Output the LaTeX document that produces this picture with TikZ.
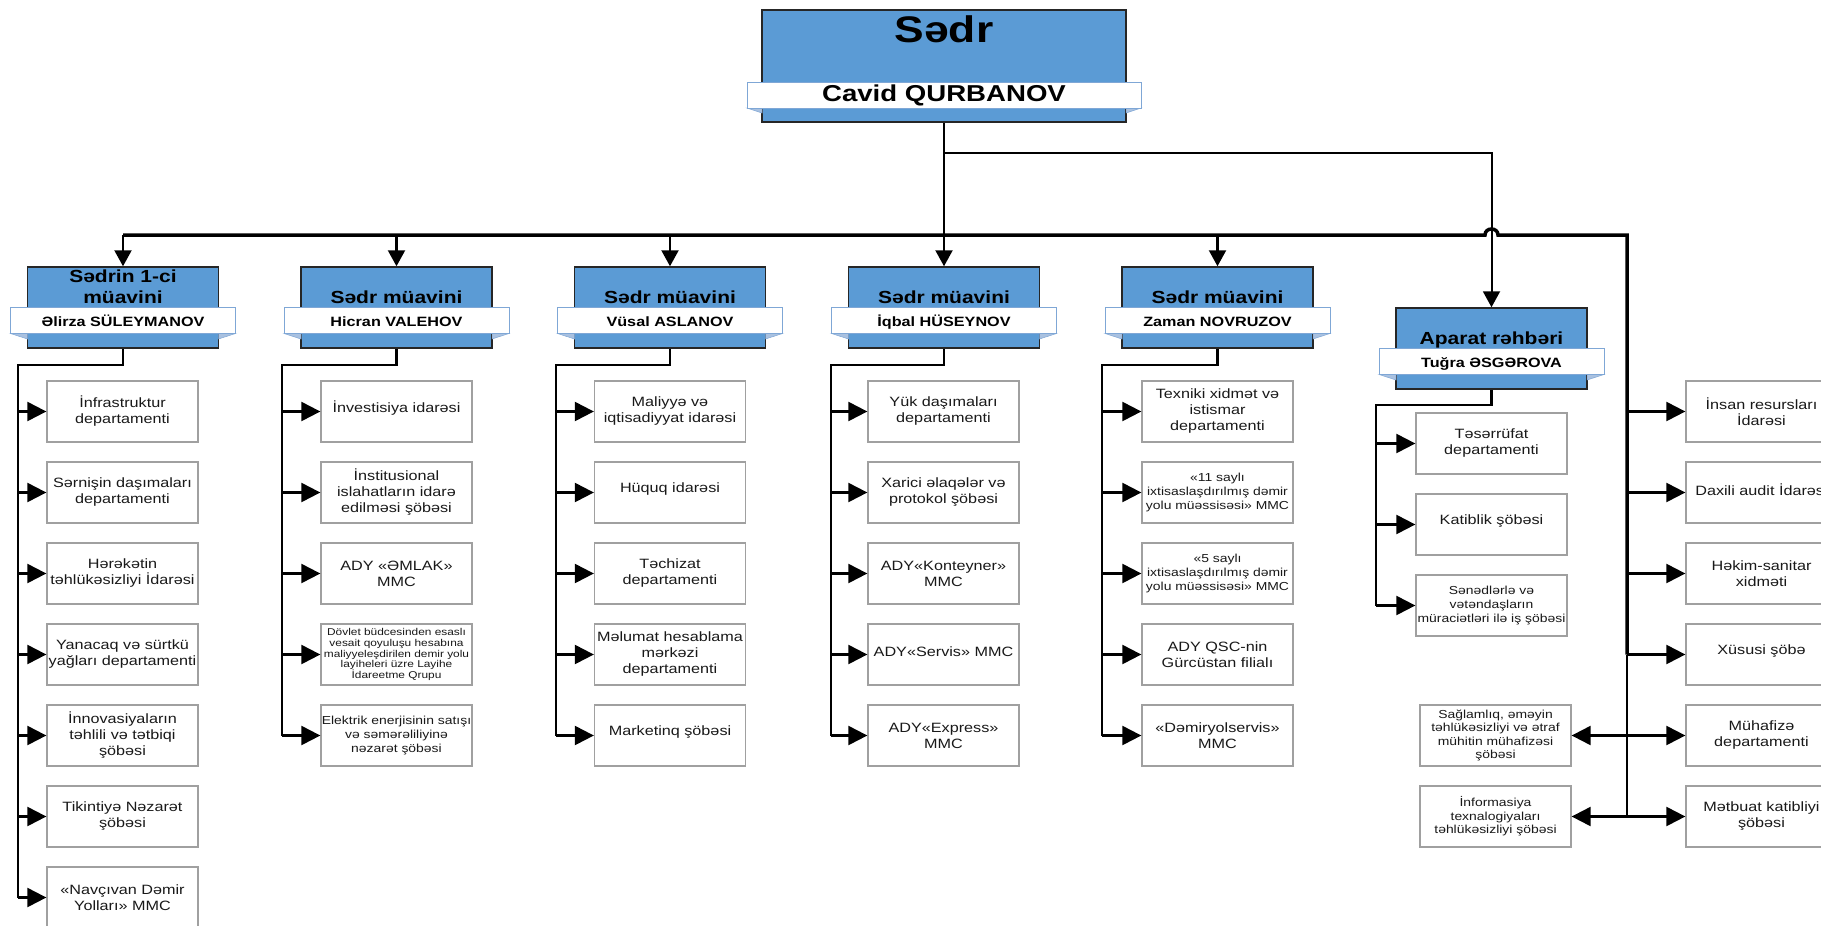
\documentclass[tikz,border=0pt]{standalone}
\usepackage{fontspec}
\setmainfont{Liberation Sans}[FakeStretch=1.2]
\usetikzlibrary{arrows.meta}
\definecolor{hdblue}{HTML}{5B9BD5}
\definecolor{bnline}{HTML}{7FA7D6}
\definecolor{bnfold}{HTML}{A9C1E0}
\definecolor{subgray}{HTML}{A0A0A0}
\definecolor{hdline}{HTML}{262626}
\newcommand\fs[2]{\fontsize{#1}{#2}\selectfont}
\newcommand\bx[4][]{\node[sub] (#2) at (#3) {}; \node[txt,#1] (#2t) at (#2.center) {#4};}
\newcommand\dep[3]{%
  \node[hd] (#1) at (#2,#3) {};
  \fill[fold] (#2,#3) ++(-112.5,26) -- ++(17,0) -- ++(0,5.5) -- cycle;
  \fill[fold] (#2,#3) ++(95.5,26) -- ++(17,0) -- ++(-17,5.5) -- cycle;
  \node[banner] (#1b) at (#2,#3+13) {};}
\begin{document}
\begin{tikzpicture}[x=1pt,y=-1pt,
 hd/.style={draw=hdline,line width=1.5pt,fill=hdblue,minimum width=191pt,minimum height=81pt,inner sep=0pt},
 banner/.style={draw=bnline,line width=1pt,fill=white,minimum width=225pt,minimum height=26pt,inner sep=0pt},
 fold/.style={fill=bnfold,draw=bnline,line width=0.5pt},
 ttl/.style={font=\fs{17.5}{20.5}\bfseries,align=center,inner sep=0pt},
 nm/.style={font=\fs{13.5}{15}\bfseries,inner sep=0pt},
 sub/.style={draw=subgray,line width=1.3pt,fill=white,minimum width=151pt,minimum height=61pt,inner sep=0pt},
 txt/.style={align=center,inner sep=0pt,font=\fs{13.5}{16},text=black!90},
 sm/.style={font=\fs{11.6}{13.6}},
 xs/.style={font=\fs{9.9}{10.7}},
 one/.style={yshift=3pt},
 conn/.style={line width=2.2pt},
 arr/.style={line width=2.2pt,-{Triangle[length=19pt,width=19pt]}},
 darr/.style={line width=2.2pt,-{Triangle[length=16pt,width=17pt]}},
 bus/.style={line width=3.5pt},
]
\useasboundingbox (0,0) rectangle (1821,926);
\fill[white] (0,0) rectangle (1821,926);

% ---- top box
\node[draw=hdline,line width=1.5pt,fill=hdblue,minimum width=364pt,minimum height=112pt,inner sep=0pt] (top) at (944,66) {};
\fill[fold] (944,66) ++(-197,42) -- ++(15,0) -- ++(0,5) -- cycle;
\fill[fold] (944,66) ++(182,42) -- ++(15,0) -- ++(-15,5) -- cycle;
\node[banner,minimum width=394pt] (topb) at (944,95) {};
\node[font=\fs{37}{40}\bfseries,inner sep=0pt,anchor=base] (topt) at (944,42) {Sədr};
\node[font=\fs{23}{25}\bfseries,inner sep=0pt,anchor=base] (topn) at (944,101) {Cavid QURBANOV};

% ---- deputies
\dep{d1}{123}{307.5}
\dep{d2}{396.5}{307.5}
\dep{d3}{670}{307.5}
\dep{d4}{944}{307.5}
\dep{d5}{1217.5}{307.5}
\dep{ap}{1491.5}{348.5}
\node[ttl] (d1t) at (123,286.5) {Sədrin 1-ci\\müavini};
\node[ttl,anchor=base] (d2t) at (396.5,303) {Sədr müavini};
\node[ttl,anchor=base] (d3t) at (670,303) {Sədr müavini};
\node[ttl,anchor=base] (d4t) at (944,303) {Sədr müavini};
\node[ttl,anchor=base] (d5t) at (1217.5,303) {Sədr müavini};
\node[ttl,anchor=base] (apt) at (1491.5,344) {Aparat rəhbəri};
\node[nm,anchor=base] (d1n) at (123,326) {Əlirza SÜLEYMANOV};
\node[nm,anchor=base] (d2n) at (396.5,326) {Hicran VALEHOV};
\node[nm,anchor=base] (d3n) at (670,326) {Vüsal ASLANOV};
\node[nm,anchor=base] (d4n) at (944,326) {İqbal HÜSEYNOV};
\node[nm,anchor=base] (d5n) at (1217.5,326) {Zaman NOVRUZOV};
\node[nm,anchor=base] (apn) at (1491.5,367) {Tuğra ƏSGƏROVA};

% ---- column 1
\bx{a1}{122.5,411.5}{İnfrastruktur\\departamenti}
\bx{a2}{122.5,492.5}{Sərnişin daşımaları\\departamenti}
\bx{a3}{122.5,573.5}{Hərəkətin\\təhlükəsizliyi İdarəsi}
\bx{a4}{122.5,654.5}{Yanacaq və sürtkü\\yağları departamenti}
\bx{a5}{122.5,735.5}{İnnovasiyaların\\təhlili və tətbiqi\\şöbəsi}
\bx{a6}{122.5,816.5}{Tikintiyə Nəzarət\\şöbəsi}
\bx{a7}{122.5,897.5}{«Navçıvan Dəmir\\Yolları» MMC}
% ---- column 2
\bx[one]{b1}{396.5,411.5}{İnvestisiya idarəsi}
\bx{b2}{396.5,492.5}{İnstitusional\\islahatların idarə\\edilməsi şöbəsi}
\bx{b3}{396.5,573.5}{ADY «ƏMLAK»\\MMC}
\bx[xs]{b4}{396.5,654.5}{Dövlet büdcesinden esaslı\\vesait qoyuluşu hesabına\\maliyyeleşdirilen demir yolu\\layiheleri üzre Layihe\\İdareetme Qrupu}
\bx[sm]{b5}{396.5,735.5}{Elektrik enerjisinin satışı\\və səmərəliliyinə\\nəzarət şöbəsi}
% ---- column 3
\bx{c1}{670,411.5}{Maliyyə və\\iqtisadiyyat idarəsi}
\bx[one]{c2}{670,492.5}{Hüquq idarəsi}
\bx{c3}{670,573.5}{Təchizat\\departamenti}
\bx{c4}{670,654.5}{Məlumat hesablama\\mərkəzi\\departamenti}
\bx[one]{c5}{670,735.5}{Marketinq şöbəsi}
% ---- column 4
\bx{e1}{943.5,411.5}{Yük daşımaları\\departamenti}
\bx{e2}{943.5,492.5}{Xarici əlaqələr və\\protokol şöbəsi}
\bx{e3}{943.5,573.5}{ADY«Konteyner»\\MMC}
\bx[one]{e4}{943.5,654.5}{ADY«Servis» MMC}
\bx{e5}{943.5,735.5}{ADY«Express»\\MMC}
% ---- column 5
\bx{f1}{1217.5,411.5}{Texniki xidmət və\\istismar\\departamenti}
\bx[sm]{f2}{1217.5,492.5}{«11 saylı\\ixtisaslaşdırılmış dəmir\\yolu müəssisəsi» MMC}
\bx[sm]{f3}{1217.5,573.5}{«5 saylı\\ixtisaslaşdırılmış dəmir\\yolu müəssisəsi» MMC}
\bx{f4}{1217.5,654.5}{ADY QSC-nin\\Gürcüstan filialı}
\bx{f5}{1217.5,735.5}{«Dəmiryolservis»\\MMC}
% ---- aparat
\bx{p1}{1491.5,443.5}{Təsərrüfat\\departamenti}
\bx[one]{p2}{1491.5,524.5}{Katiblik şöbəsi}
\bx[sm]{p3}{1491.5,605.5}{Sənədlərlə və\\vətəndaşların\\müraciətləri ilə iş şöbəsi}
% ---- right column
\bx{r1}{1761.5,411.5}{İnsan resursları\\İdarəsi}
\bx[one]{r2}{1761.5,492.5}{Daxili audit İdarəsi}
\bx{r3}{1761.5,573.5}{Həkim-sanitar\\xidməti}
\bx[one]{r4}{1761.5,654.5}{Xüsusi şöbə}
\bx{r5}{1761.5,735.5}{Mühafizə\\departamenti}
\bx{r6}{1761.5,816.5}{Mətbuat katibliyi\\şöbəsi}
\bx[sm]{l1}{1495.5,735.5}{Sağlamlıq, əməyin\\təhlükəsizliyi və ətraf\\mühitin mühafizəsi\\şöbəsi}
\bx[sm]{l2}{1495.5,816.5}{İnformasiya\\texnalogiyaları\\təhlükəsizliyi şöbəsi}

% ---- top connectors
\coordinate (tj) at (944,153);
\coordinate (busL) at (123,235);
\coordinate (busR) at (1627,235);
\draw[line width=2pt] (top.south) -- (944,235);
\draw[darr,line width=2pt] (tj) -| (ap.north);
\draw[bus] (busL) -- (1485,235) .. controls (1485,227) and (1498,227) .. (1498,235) -- (busR) -- (1627,654.5);
\draw[conn] (1627,654.5) -- (1627,816.5);
\foreach \d in {d1,d2,d3,d4,d5} \draw[darr] (\d.north |- busL) -- (\d.north);

% ---- sub connectors
\coordinate (j1) at (18,365);
\coordinate (j2) at (282,365);
\coordinate (j3) at (556,365);
\coordinate (j4) at (831,365);
\coordinate (j5) at (1102,365);
\coordinate (ja) at (1376,405);
\draw[conn] (d1.south) |- (j1) -- (j1 |- a7.west);
\draw[conn] (d2.south) |- (j2) -- (j2 |- b5.west);
\draw[conn] (d3.south) |- (j3) -- (j3 |- c5.west);
\draw[conn] (d4.south) |- (j4) -- (j4 |- e5.west);
\draw[conn] (d5.south) |- (j5) -- (j5 |- f5.west);
\draw[conn] (ap.south) |- (ja) -- (ja |- p3.west);
\foreach \k in {1,...,7} \draw[arr] (j1 |- a\k.west) -- (a\k.west);
\foreach \k in {1,...,5} {
  \draw[arr] (j2 |- b\k.west) -- (b\k.west);
  \draw[arr] (j3 |- c\k.west) -- (c\k.west);
  \draw[arr] (j4 |- e\k.west) -- (e\k.west);
  \draw[arr] (j5 |- f\k.west) -- (f\k.west);
}
\foreach \k in {1,2,3} \draw[arr] (ja |- p\k.west) -- (p\k.west);
\foreach \k in {1,...,6} \draw[arr] (busR |- r\k.west) -- (r\k.west);
\draw[arr] (busR |- l1.east) -- (l1.east);
\draw[arr] (busR |- l2.east) -- (l2.east);
\end{tikzpicture}
\end{document}
